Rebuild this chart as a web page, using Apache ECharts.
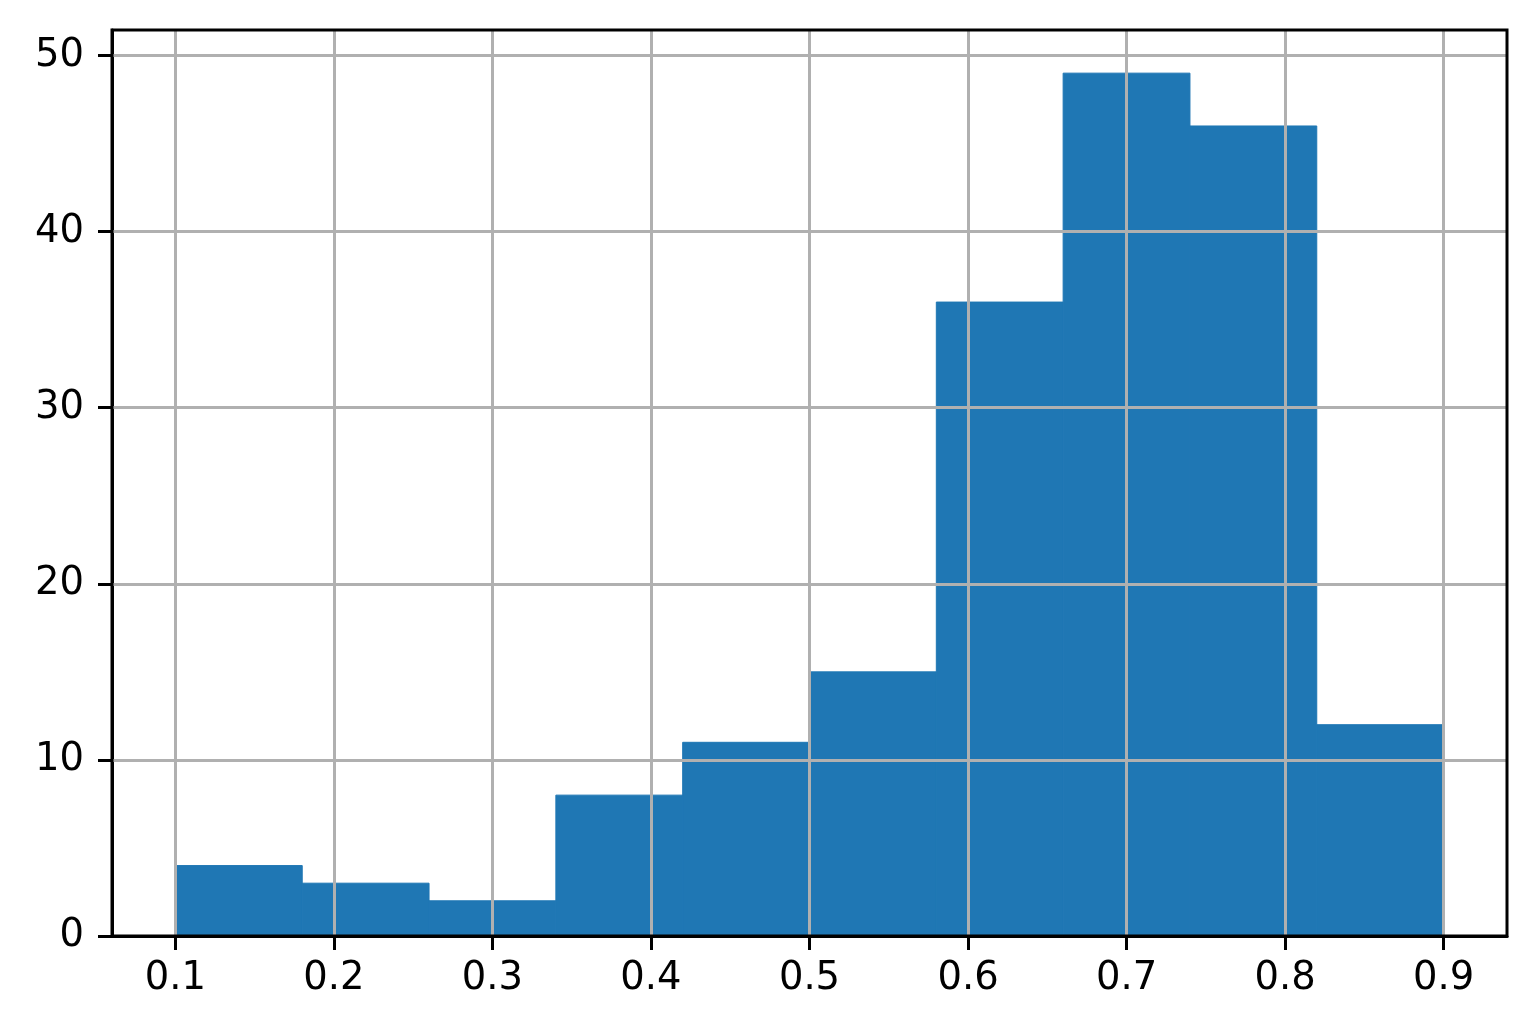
<!DOCTYPE html>
<html>
<head>
<meta charset="utf-8">
<script src="https://cdn.jsdelivr.net/npm/echarts@6/dist/echarts.min.js"></script>
<style>
html,body{margin:0;padding:0;background:#fff;}
#chart{width:1537px;height:1035px;}
</style>
</head>
<body>
<div id="chart"></div>
<script>
// Histogram bin edges and counts
const binEdges = [0.1, 0.18, 0.26, 0.34, 0.42, 0.5, 0.58, 0.66, 0.74, 0.82, 0.9];
const counts = [4, 3, 2, 8, 11, 15, 36, 49, 46, 12];
const xTicks = [0.1, 0.2, 0.3, 0.4, 0.5, 0.6, 0.7, 0.8, 0.9];
const yTicks = [0, 10, 20, 30, 40, 50];

const barData = counts.map((c, i) => [binEdges[i], binEdges[i + 1], c]);

const chart = echarts.init(document.getElementById('chart'), null, {renderer: 'canvas'});
const font = 'DejaVu Sans';
const gridColor = '#b0b0b0';

chart.setOption({
  animation: false,
  backgroundColor: '#ffffff',
  grid: {
    left: 112, right: 30, top: 30, bottom: 99,
    show: true, borderColor: '#000', borderWidth: 3, backgroundColor: 'transparent', z: 10
  },
  xAxis: {
    type: 'value',
    min: 0.06, max: 0.94,
    splitLine: {show: false},
    axisLine: {show: true, onZero: false, lineStyle: {color: '#000', width: 3}},
    axisTick: {show: true, length: 14, lineStyle: {color: '#000', width: 3}, customValues: xTicks},
    axisLabel: {
      customValues: xTicks, color: '#000', fontFamily: font, fontSize: 38.5, margin: 23,
      formatter: v => v.toFixed(1)
    }
  },
  yAxis: {
    type: 'value',
    min: 0, max: 51.45,
    splitLine: {show: false},
    axisLine: {show: true, onZero: false, lineStyle: {color: '#000', width: 3}},
    axisTick: {show: true, length: 14, lineStyle: {color: '#000', width: 3}, customValues: yTicks},
    axisLabel: {
      customValues: yTicks, color: '#000', fontFamily: font, fontSize: 38.5, margin: 28,
      formatter: v => String(v)
    }
  },
  series: [
    {
      type: 'custom',
      z: 2,
      data: barData,
      encode: {x: [0, 1], y: 2},
      renderItem: function (params, api) {
        const p0 = api.coord([api.value(0), api.value(2)]);
        const p1 = api.coord([api.value(1), 0]);
        return {
          type: 'rect',
          shape: {x: p0[0], y: p0[1], width: p1[0] - p0[0], height: p1[1] - p0[1]},
          style: {fill: '#1f77b4', stroke: '#1f77b4', lineWidth: 1}
        };
      }
    },
    {
      type: 'line',
      data: [],
      z: 5,
      silent: true,
      markLine: {
        silent: true,
        symbol: 'none',
        animation: false,
        label: {show: false},
        lineStyle: {color: gridColor, width: 3, type: 'solid'},
        emphasis: {disabled: true},
        data: xTicks.map(v => ({xAxis: v})).concat(yTicks.filter(v => v > 0).map(v => ({yAxis: v})))
      }
    }
  ]
});
</script>
</body>
</html>
